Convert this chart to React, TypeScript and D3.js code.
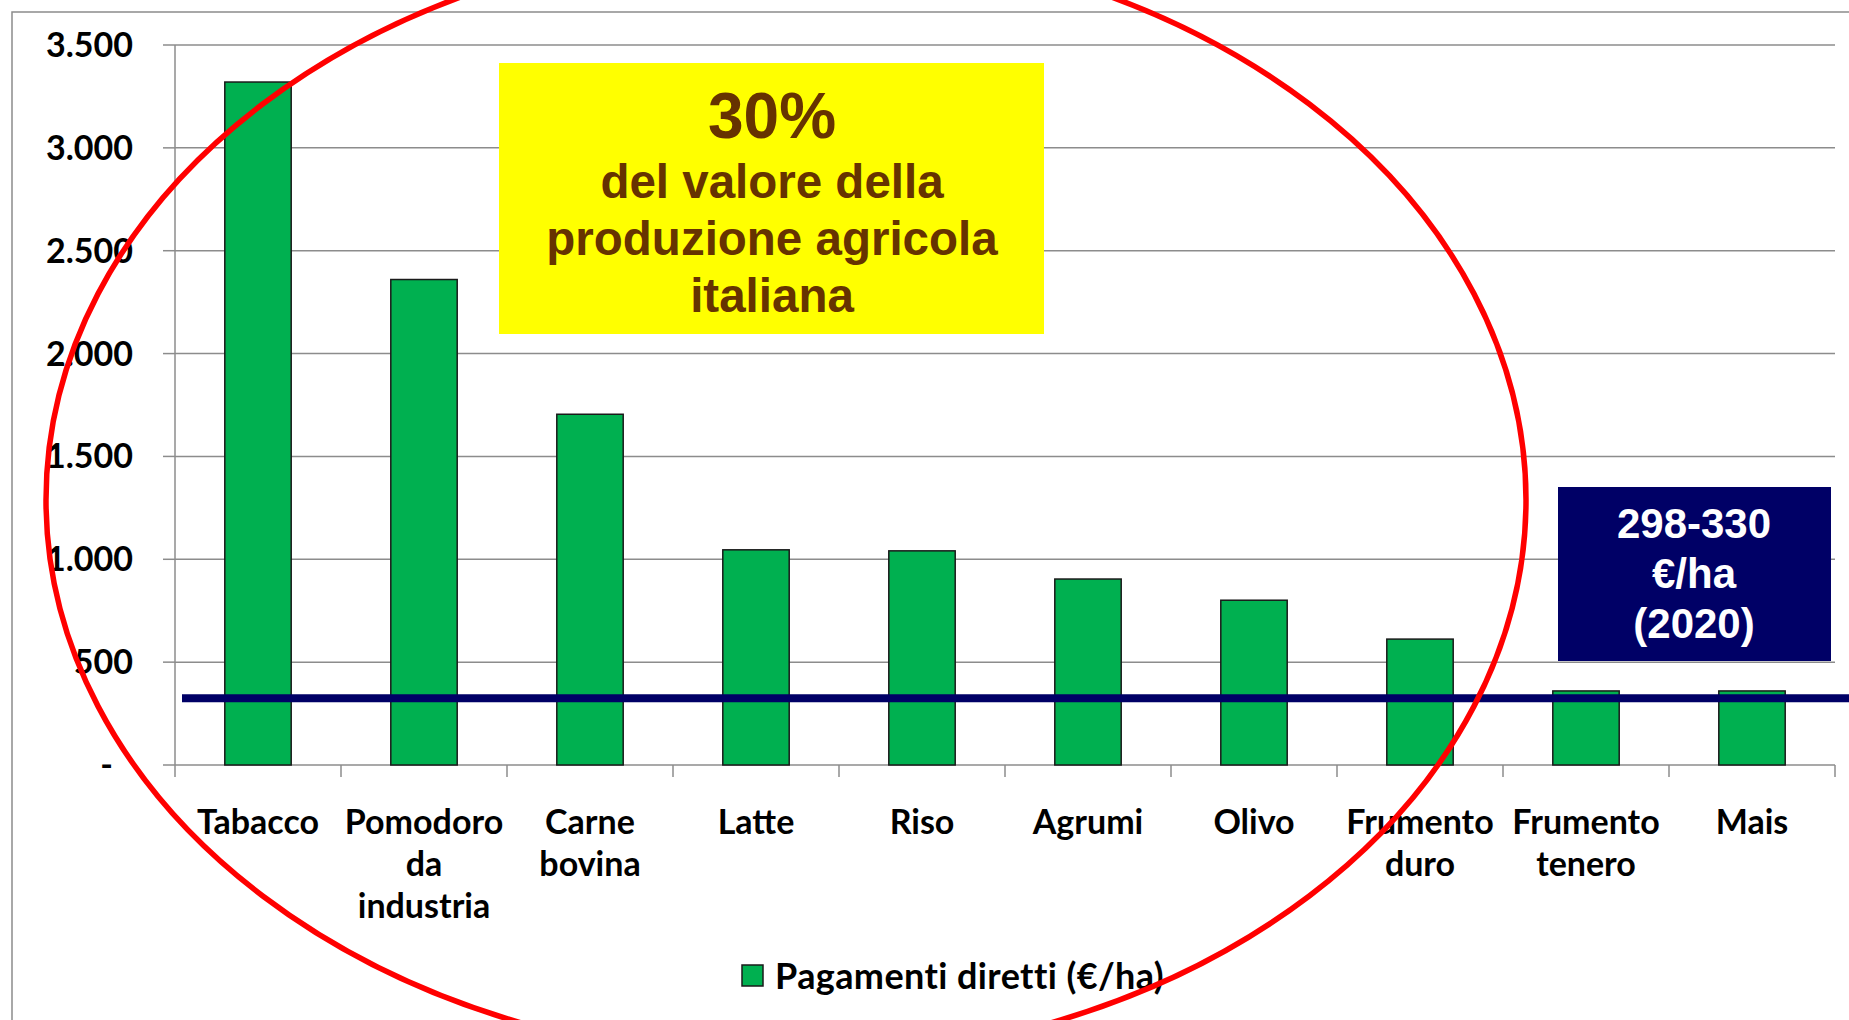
import React from "react";
import { scaleBand, scaleLinear } from "d3";

// crops and direct payments (€/ha)
const categories = ["Tabacco", "Pomodoro da industria", "Carne bovina", "Latte", "Riso", "Agrumi", "Olivo", "Frumento duro", "Frumento tenero", "Mais"];
const labelLines = [["Tabacco"], ["Pomodoro", "da", "industria"], ["Carne", "bovina"], ["Latte"], ["Riso"], ["Agrumi"], ["Olivo"], ["Frumento", "duro"], ["Frumento", "tenero"], ["Mais"]];
const payments = [3320, 2360, 1705, 1046, 1041, 904, 801, 612, 360, 360];
const yTicks = [0, 500, 1000, 1500, 2000, 2500, 3000, 3500];
const yTickLabels = ["-", "500", "1.000", "1.500", "2.000", "2.500", "3.000", "3.500"];
const averageLine = 325; // 298-330 €/ha
const boxLines = ["298-330", "€/ha", "(2020)"];
const noteLines = ["del valore della", "produzione agricola", "italiana"];

const W = 1849;
const H = 1020;
const left = 175, right = 1835, top = 45, bottom = 765;
const grid = "#8c8c8c";
const font = "Lato, 'Open Sans', sans-serif";
const arial = "'Liberation Sans', Arial, sans-serif";

export default function App() {
  const x = scaleBand().domain(categories).range([left, right]).paddingInner(0.6).paddingOuter(0.3);
  const y = scaleLinear().domain([0, 3500]).range([bottom, top]);
  const step = x.step();

  return (
    <svg width={W} height={H} style={{ position: "absolute", left: 0, top: 0, display: "block", background: "#fff" }}>
      {/* chart area border */}
      <rect x={12} y={12} width={W} height={H} fill="none" stroke={grid} strokeWidth={1.5} />

      {/* gridlines + y ticks */}
      {yTicks.map((t, i) => (
        <g key={t}>
          {t > 0 && <line x1={left} x2={right} y1={y(t)} y2={y(t)} stroke={grid} strokeWidth={1.5} />}
          <line x1={left - 12} x2={left} y1={y(t)} y2={y(t)} stroke={grid} strokeWidth={1.5} />
          <text x={t === 0 ? 113 : 133} y={y(t) + 12} textAnchor="end" fontFamily={font} fontWeight={700} fontSize={34} fill="#000">
            {yTickLabels[i]}
          </text>
        </g>
      ))}

      {/* axes */}
      <line x1={left} x2={left} y1={top} y2={bottom} stroke={grid} strokeWidth={1.5} />
      <line x1={left} x2={right} y1={bottom} y2={bottom} stroke={grid} strokeWidth={1.5} />
      {categories.map((c, i) => (
        <line key={c} x1={left + i * step} x2={left + i * step} y1={bottom} y2={bottom + 12} stroke={grid} strokeWidth={1.5} />
      ))}
      <line x1={right} x2={right} y1={bottom} y2={bottom + 12} stroke={grid} strokeWidth={1.5} />

      {/* yellow note */}
      <rect x={499} y={63} width={545} height={271} fill="#ffff00" />
      <text x={772} y={138} textAnchor="middle" fontFamily={arial} fontWeight={700} fontSize={64} fill="#663300">30%</text>
      {noteLines.map((l, i) => (
        <text key={l} x={772} y={198 + i * 57} textAnchor="middle" fontFamily={arial} fontWeight={700} fontSize={47.5} fill="#663300">{l}</text>
      ))}

      {/* bars */}
      {payments.map((v, i) => (
        <rect key={categories[i]} x={x(categories[i])} y={y(v)} width={x.bandwidth()} height={bottom - y(v)} fill="#00b050" stroke="#1a1a1a" strokeWidth={1.5} />
      ))}

      {/* x labels */}
      {labelLines.map((lines, i) => (
        <text key={i} textAnchor="middle" fontFamily={font} fontWeight={700} fontSize={34} fill="#000">
          {lines.map((l, j) => (
            <tspan key={j} x={(x(categories[i]) as number) + x.bandwidth() / 2} y={834 + j * 42}>{l}</tspan>
          ))}
        </text>
      ))}

      {/* average payment line */}
      <line x1={182} x2={W} y1={y(averageLine)} y2={y(averageLine)} stroke="#000066" strokeWidth={8} />

      {/* navy box */}
      <rect x={1558} y={487} width={273} height={174} fill="#000066" />
      {boxLines.map((l, i) => (
        <text key={l} x={1694} y={538 + i * 50} textAnchor="middle" fontFamily={arial} fontWeight={700} fontSize={42} fill="#fff">{l}</text>
      ))}

      {/* legend */}
      <rect x={742} y={965} width={21} height={21} fill="#00b050" stroke="#1a1a1a" strokeWidth={1.5} />
      <text x={775} y={989} fontFamily={font} fontWeight={700} fontSize={36} letterSpacing={0.4} fill="#000">Pagamenti diretti (€/ha)</text>

      {/* red ellipse */}
      <ellipse cx={786} cy={500} rx={740} ry={560} fill="none" stroke="#ff0000" strokeWidth={5.5} />
    </svg>
  );
}
